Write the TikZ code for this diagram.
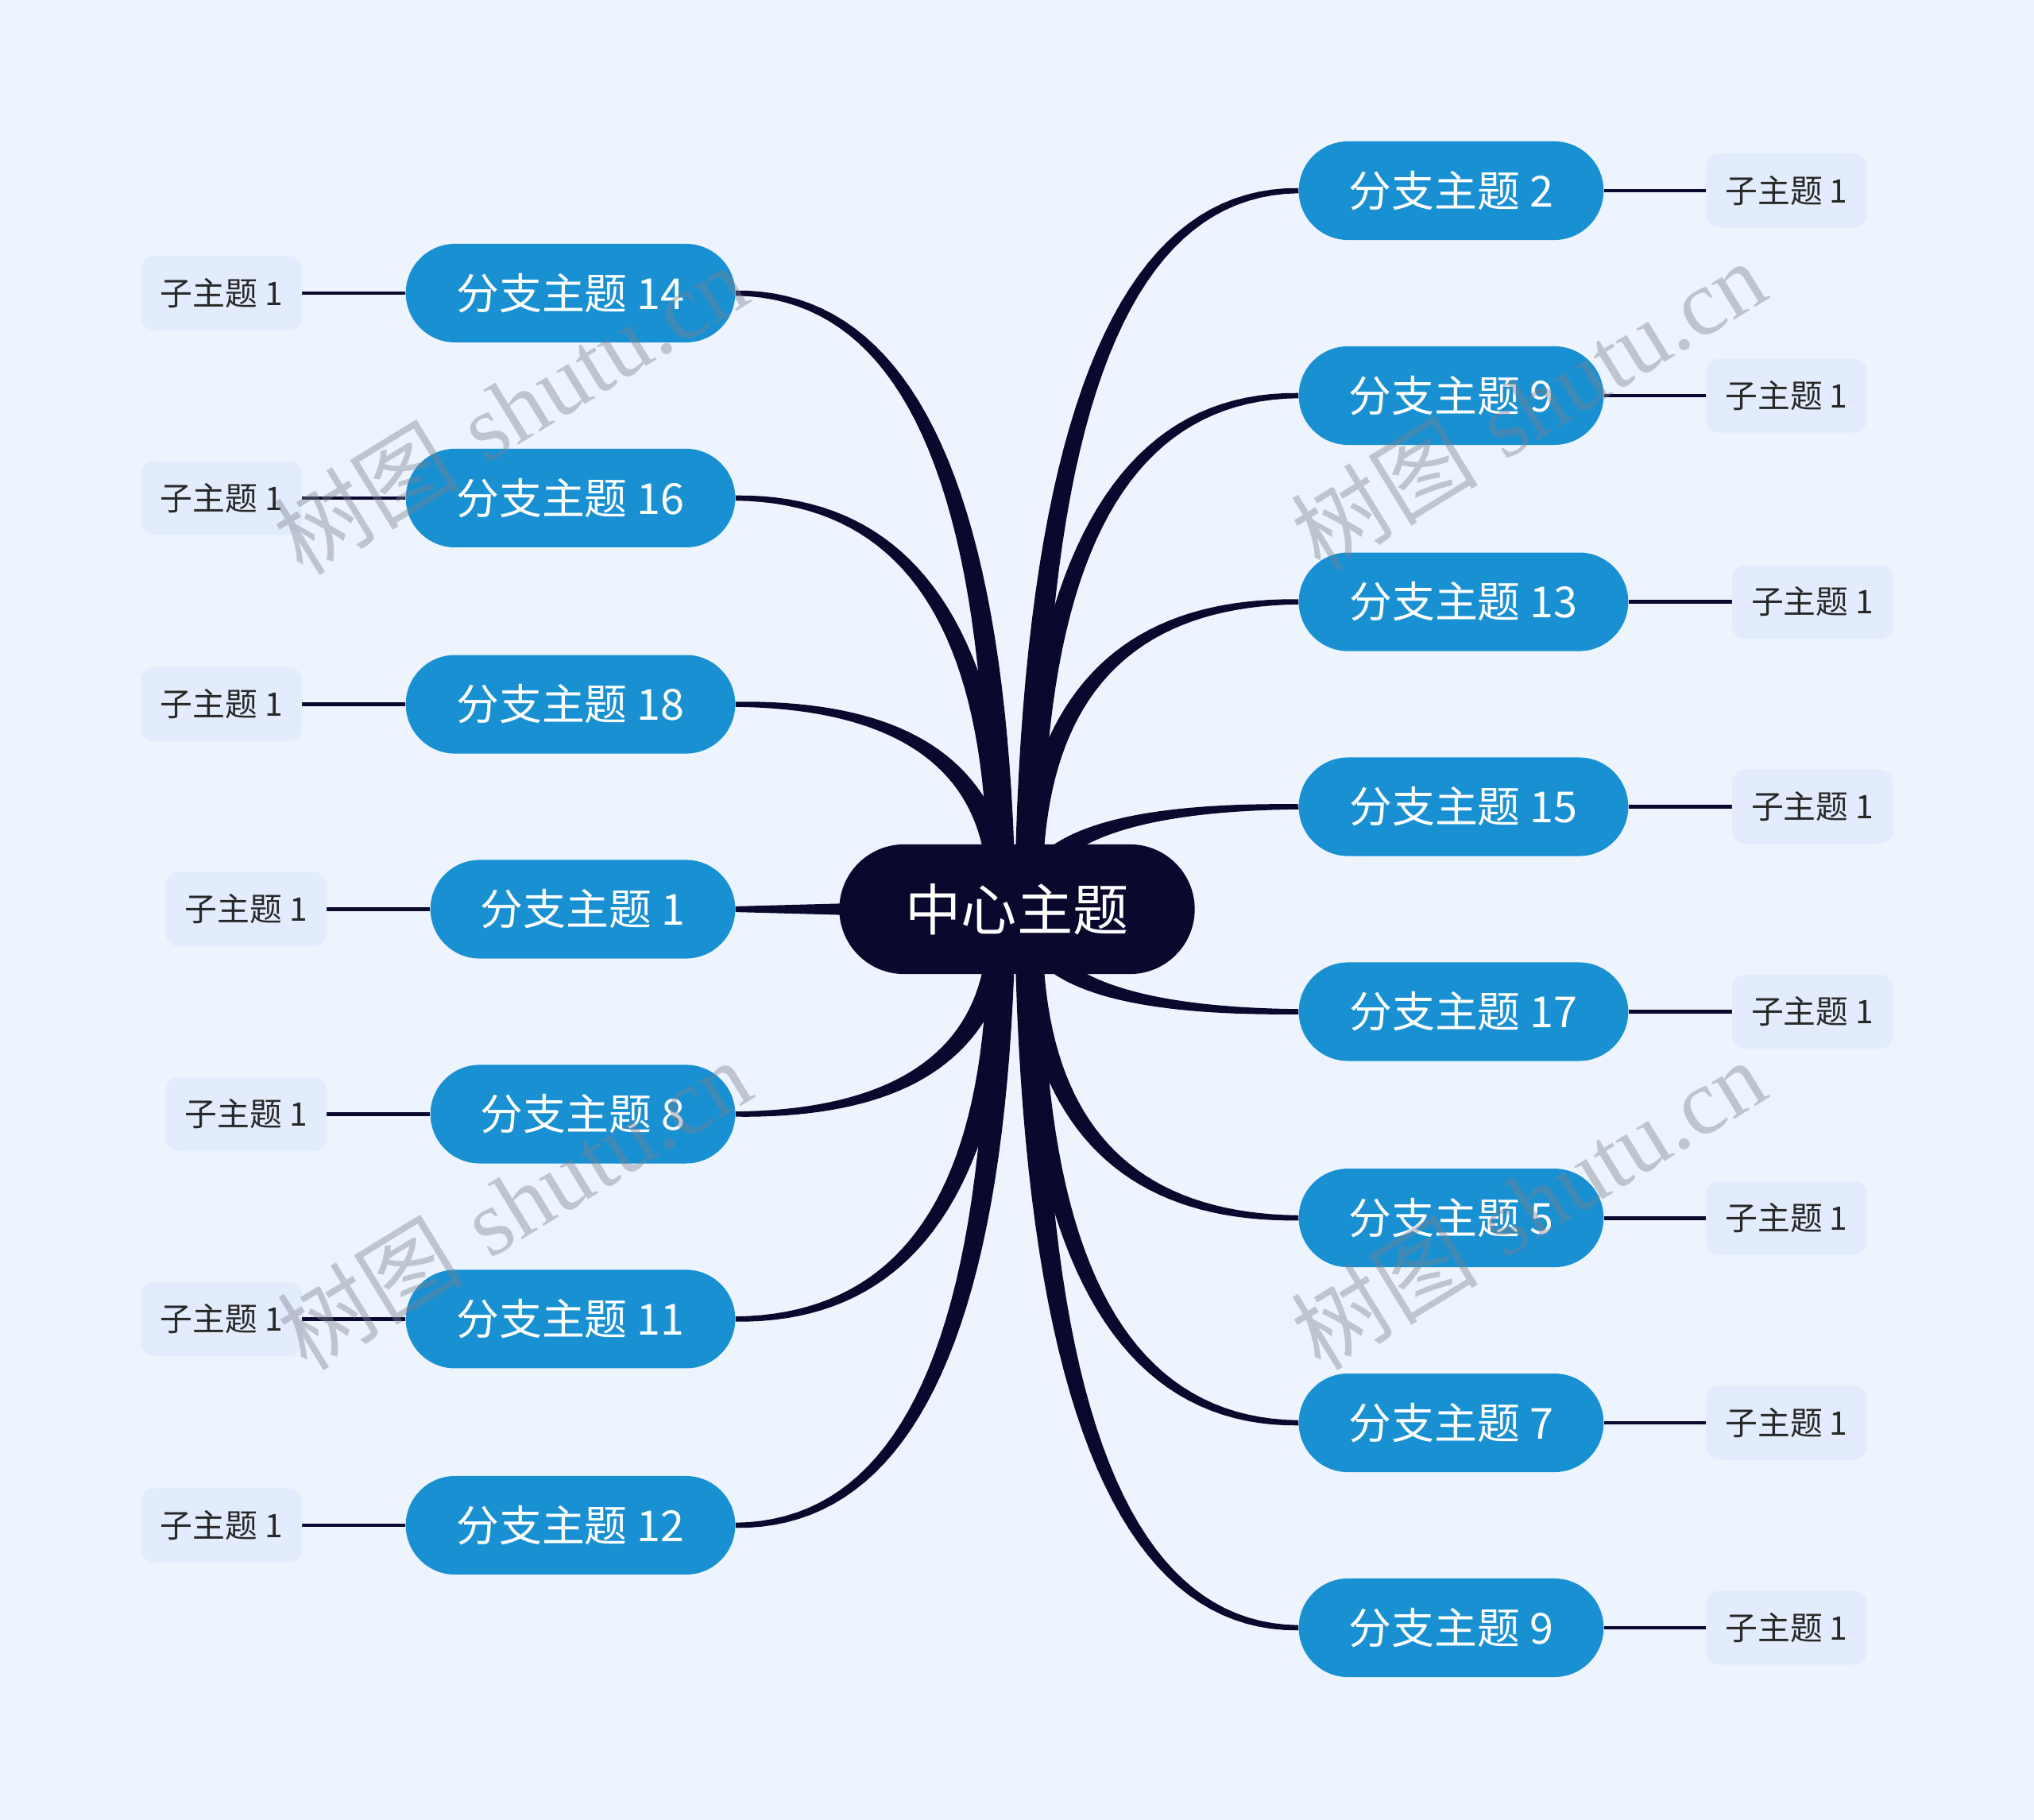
\documentclass[tikz,border=0pt]{standalone}
\usepackage{fontspec}
\newfontfamily\cjk{Noto Sans CJK SC}
\newfontfamily\wmserif{Liberation Serif}
\usetikzlibrary{calc}
\definecolor{bgc}{RGB}{238,244,254}
\definecolor{navy}{RGB}{10,8,45}
\definecolor{bblue}{RGB}{24,144,210}
\definecolor{subc}{RGB}{227,236,252}
\definecolor{subtext}{RGB}{40,40,40}
\definecolor{wmc}{RGB}{125,130,145}
\pgfdeclarelayer{bg}
\pgfsetlayers{bg,main}
% tapered connector: #1 branch anchor (thin end), #2 centre end (thick end)
\newcommand\taperto[2]{%
  \path (#1); \pgfgetlastxy{\tbx}{\tby}%
  \path (#2); \pgfgetlastxy{\tcx}{\tcy}%
  \pgfmathsetmacro\dX{(\tbx-\tcx)/100}%
  \pgfmathsetmacro\dY{(\tcy-\tby)/100}%
  \pgfmathsetmacro\bX{\tcx}%
  \pgfmathsetmacro\bY{\tby}%
  \fill[navy] plot[variable=\u,domain=0:1,samples=41]
   ({(\bX+100*(1-\u)^2*\dX-(2+4.5*(\u+\u*\u))*\u*\dY/sqrt(\u*\u*\dY*\dY+(1-\u)^2*\dX*\dX))*1pt},
    {(\bY+100*\u*\u*\dY-(2+4.5*(\u+\u*\u))*(1-\u)*\dX/sqrt(\u*\u*\dY*\dY+(1-\u)^2*\dX*\dX))*1pt})
   -- plot[variable=\u,domain=1:0,samples=41]
   ({(\bX+100*(1-\u)^2*\dX+(2+4.5*(\u+\u*\u))*\u*\dY/sqrt(\u*\u*\dY*\dY+(1-\u)^2*\dX*\dX))*1pt},
    {(\bY+100*\u*\u*\dY+(2+4.5*(\u+\u*\u))*(1-\u)*\dX/sqrt(\u*\u*\dY*\dY+(1-\u)^2*\dX*\dX))*1pt})
   -- cycle;}
\begin{document}
\begin{tikzpicture}[x=1pt,y=-1pt,
  ctrbox/.style={fill=navy,text=white,rounded corners=50pt,minimum width=274pt,minimum height=100pt,inner sep=0pt,font=\cjk\fontsize{43}{43}\selectfont},
  branchbox/.style={fill=bblue,text=white,rounded corners=38pt,minimum height=76pt,inner sep=0pt,font=\cjk\fontsize{33}{33}\selectfont},
  bwone/.style={minimum width=235pt},
  bwtwo/.style={minimum width=254pt},
  subbox/.style={fill=subc,text=subtext,rounded corners=10pt,minimum width=124pt,minimum height=57pt,inner sep=0pt,font=\cjk\fontsize{25}{25}\selectfont},
  subline/.style={draw=navy,line width=3pt},
  wmark/.style={text=wmc,text opacity=0.42,font=\fontsize{72}{72}\selectfont,rotate=31.5,inner sep=0pt}
]
\useasboundingbox (0,0) rectangle (1568,1403);
% central topic
\node[ctrbox] (ctr) at (784,701) {中心主题};
\coordinate (cl) at (772,701);
\coordinate (cr) at (793,701);
% left branches
\node[branchbox,bwtwo,anchor=east] (b14) at (567,226) {分支主题 14};
\node[branchbox,bwtwo,anchor=east] (b16) at (567,384) {分支主题 16};
\node[branchbox,bwtwo,anchor=east] (b18) at (567,543) {分支主题 18};
\node[branchbox,bwone,anchor=east] (b1) at (567,701) {分支主题 1};
\node[branchbox,bwone,anchor=east] (b8) at (567,859) {分支主题 8};
\node[branchbox,bwtwo,anchor=east] (b11) at (567,1017) {分支主题 11};
\node[branchbox,bwtwo,anchor=east] (b12) at (567,1176) {分支主题 12};
% right branches
\node[branchbox,bwone,anchor=west] (b2) at (1001,147) {分支主题 2};
\node[branchbox,bwone,anchor=west] (b9a) at (1001,305) {分支主题 9};
\node[branchbox,bwtwo,anchor=west] (b13) at (1001,464) {分支主题 13};
\node[branchbox,bwtwo,anchor=west] (b15) at (1001,622) {分支主题 15};
\node[branchbox,bwtwo,anchor=west] (b17) at (1001,780) {分支主题 17};
\node[branchbox,bwone,anchor=west] (b5) at (1001,939) {分支主题 5};
\node[branchbox,bwone,anchor=west] (b7) at (1001,1097) {分支主题 7};
\node[branchbox,bwone,anchor=west] (b9b) at (1001,1255) {分支主题 9};
% left subtopics
\node[subbox,anchor=east] (s14) at (233,226) {子主题 1};
\node[subbox,anchor=east] (s16) at (233,384) {子主题 1};
\node[subbox,anchor=east] (s18) at (233,543) {子主题 1};
\node[subbox,anchor=east] (s1) at (252,701) {子主题 1};
\node[subbox,anchor=east] (s8) at (252,859) {子主题 1};
\node[subbox,anchor=east] (s11) at (233,1017) {子主题 1};
\node[subbox,anchor=east] (s12) at (233,1176) {子主题 1};
% right subtopics
\node[subbox,anchor=west] (s2) at (1315,147) {子主题 1};
\node[subbox,anchor=west] (s9a) at (1315,305) {子主题 1};
\node[subbox,anchor=west] (s13) at (1335,464) {子主题 1};
\node[subbox,anchor=west] (s15) at (1335,622) {子主题 1};
\node[subbox,anchor=west] (s17) at (1335,780) {子主题 1};
\node[subbox,anchor=west] (s5) at (1315,939) {子主题 1};
\node[subbox,anchor=west] (s7) at (1315,1097) {子主题 1};
\node[subbox,anchor=west] (s9b) at (1315,1255) {子主题 1};
\begin{pgfonlayer}{bg}
\fill[bgc] (0,0) rectangle (1568,1403);
\taperto{b14.east}{cl}
\taperto{b16.east}{cl}
\taperto{b18.east}{cl}
\taperto{b8.east}{cl}
\taperto{b11.east}{cl}
\taperto{b12.east}{cl}
\taperto{b2.west}{cr}
\taperto{b9a.west}{cr}
\taperto{b13.west}{cr}
\taperto{b15.west}{cr}
\taperto{b17.west}{cr}
\taperto{b5.west}{cr}
\taperto{b7.west}{cr}
\taperto{b9b.west}{cr}
\fill[navy] ($(b1.east)+(0,-2.2)$) -- ($(ctr.center)+(0,-8)$) -- ($(ctr.center)+(0,8)$) -- ($(b1.east)+(0,2.2)$) -- cycle;
\foreach \b in {14,16,18,1,8,11,12}{\draw[subline] (b\b.west) -- (s\b.east);}
\foreach \b in {2,9a,13,15,17,5,7,9b}{\draw[subline] (b\b.east) -- (s\b.west);}
\end{pgfonlayer}
% watermarks
\node[wmark] (wm1) at (393,315) {{\cjk 树图} {\wmserif shutu.cn}};
\node[wmark] (wm2) at (1178,312) {{\cjk 树图} {\wmserif shutu.cn}};
\node[wmark] (wm3) at (396,928) {{\cjk 树图} {\wmserif shutu.cn}};
\node[wmark] (wm4) at (1178,928) {{\cjk 树图} {\wmserif shutu.cn}};
\end{tikzpicture}
\end{document}
